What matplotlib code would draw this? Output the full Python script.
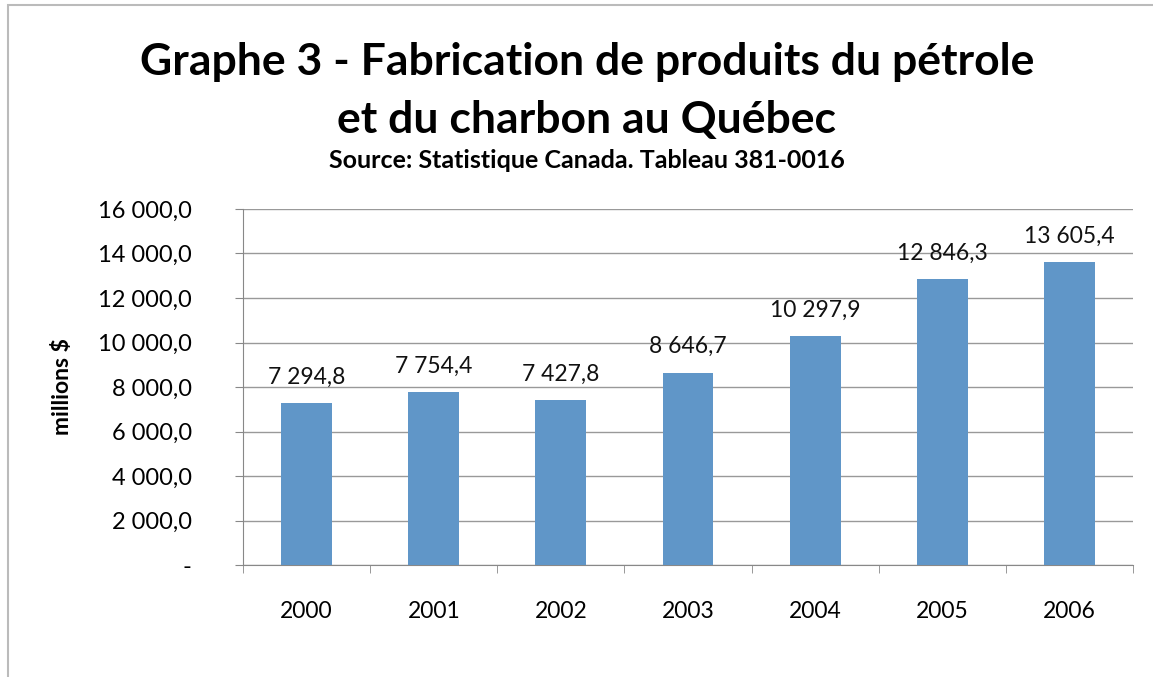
import matplotlib
matplotlib.use('Agg')
import matplotlib.pyplot as plt
import matplotlib.ticker as mticker
from matplotlib.patches import Rectangle
import numpy as np

plt.rcParams['font.family'] = ['Lato', 'DejaVu Sans']

# Données (millions $)
annees = ['2000', '2001', '2002', '2003', '2004', '2005', '2006']
valeurs = [7294.8, 7754.4, 7427.8, 8646.7, 10297.9, 12846.3, 13605.4]

titre_1 = 'Graphe 3 - Fabrication de produits du pétrole'
titre_2 = 'et du charbon au Québec'
sous_titre = 'Source: Statistique Canada. Tableau 381-0016'


def format_fr(v):
    # 12 846,3 -> espace pour les milliers, virgule décimale
    return f'{v:,.1f}'.replace(',', ' ').replace('.', ',')


fig = plt.figure(figsize=(11.53, 6.77), dpi=100)
ax = fig.add_axes([0.2108, 0.1654, 0.7719, 0.5259])

x = np.arange(len(annees))
ax.bar(x, valeurs, width=0.4, color='#6096C8', zorder=3)

# Étiquettes de valeur au-dessus des barres
for xi, v in zip(x, valeurs):
    ax.annotate(format_fr(v), (xi, v), xytext=(0, 11), textcoords='offset points',
                ha='center', va='bottom', fontsize=16.5, color='#111111')

ax.set_xlim(-0.5, len(annees) - 0.5)
ax.set_ylim(0, 16000)
ax.yaxis.set_major_locator(mticker.MultipleLocator(2000))
ax.yaxis.set_major_formatter(mticker.FuncFormatter(
    lambda v, _: '-' if v == 0 else format_fr(v)))

# Années au centre, petits traits entre les catégories
ax.set_xticks(x)
ax.set_xticklabels(annees)
ax.set_xticks(np.arange(len(annees) + 1) - 0.5, minor=True)
ax.tick_params(axis='x', which='major', length=0, pad=26, labelsize=16.5)
ax.tick_params(axis='x', which='minor', length=6, color='#888888')
ax.tick_params(axis='y', length=6, color='#888888', labelsize=17, pad=31)

ax.grid(axis='y', color='#999999', linewidth=1, zorder=0)
for cote in ['top', 'right']:
    ax.spines[cote].set_visible(False)
ax.spines['left'].set_color('#888888')
ax.spines['bottom'].set_color('#888888')

ax.set_ylabel('millions $', fontsize=16.5, fontweight='bold')
ax.yaxis.set_label_coords(-0.191, 0.5)

fig.text(0.509, 1 - 62 / 677, titre_1, ha='center', va='center', fontsize=32,
         fontweight='bold')
fig.text(0.509, 1 - 120 / 677, titre_2, ha='center', va='center', fontsize=32,
         fontweight='bold')
fig.text(0.509, 1 - 160 / 677, sous_titre, ha='center', va='center', fontsize=18,
         fontweight='bold')

# Cadre du graphique
fig.patches.append(Rectangle((8 / 1153, -0.1), 1.2, 1.1 - 5 / 677,
                             transform=fig.transFigure, fill=False,
                             edgecolor='#BBBBBB', linewidth=1.5))

plt.savefig('out.png', dpi=100)
plt.close()
